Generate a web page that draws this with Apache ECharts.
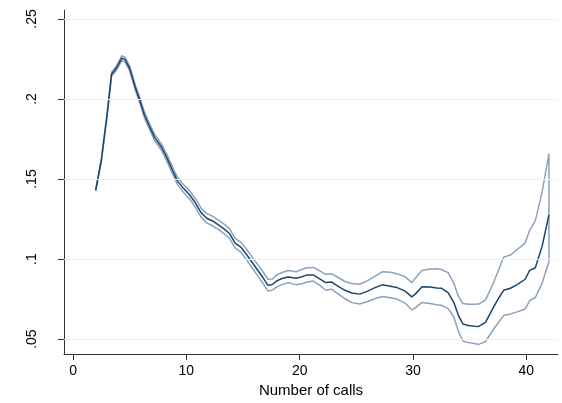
<!DOCTYPE html>
<html>
<head>
<meta charset="utf-8">
<script src="https://cdn.jsdelivr.net/npm/echarts@6/dist/echarts.min.js"></script>
<style>
html,body{margin:0;padding:0;background:#fff;}
#chart{width:562px;height:403px;}
</style>
</head>
<body>
<div id="chart"></div>
<script>
// Number of calls (x positions)
var calls = [2, 2.5, 3, 3.4, 3.8, 4.3, 4.6, 5, 5.5, 5.9, 6.3, 6.8, 7.2, 7.8, 8.3, 8.8, 9.2, 9.7, 10.3, 10.8, 11.3, 11.8, 12.3, 12.8, 13.3, 13.8, 14.3, 14.8, 15.3, 15.8, 16.3, 16.8, 17.2, 17.6, 18, 18.5, 19, 19.7, 20.2, 20.6, 21.2, 21.7, 22.3, 22.8, 23.4, 24, 24.6, 25.3, 26, 26.6, 27.3, 28, 28.6, 29.3, 29.9, 30.2, 30.8, 31.5, 32.1, 32.5, 33.1, 33.6, 34, 34.4, 34.9, 35.4, 35.8, 36.4, 37.1, 37.6, 38, 38.6, 39.2, 39.9, 40.3, 40.8, 41.4, 42];
// Estimate
var estimate = [0.143, 0.162, 0.190, 0.2155, 0.219, 0.2255, 0.2245, 0.219, 0.207, 0.199, 0.190, 0.182, 0.176, 0.170, 0.163, 0.155, 0.149, 0.1445, 0.140, 0.135, 0.129, 0.1255, 0.1238, 0.1215, 0.119, 0.116, 0.110, 0.1075, 0.103, 0.098, 0.093, 0.088, 0.0836, 0.0841, 0.0865, 0.088, 0.0888, 0.088, 0.089, 0.090, 0.0901, 0.088, 0.0853, 0.0857, 0.083, 0.0805, 0.0788, 0.0781, 0.080, 0.082, 0.0839, 0.083, 0.0822, 0.080, 0.0764, 0.0781, 0.0827, 0.0825, 0.082, 0.0818, 0.079, 0.073, 0.065, 0.0595, 0.0585, 0.058, 0.0579, 0.0605, 0.0698, 0.076, 0.0805, 0.0818, 0.084, 0.0874, 0.0929, 0.0946, 0.108, 0.1276];
// Upper confidence bound
var upper = [0.1435, 0.1627, 0.191, 0.2167, 0.2203, 0.227, 0.226, 0.2205, 0.2086, 0.2008, 0.1918, 0.1838, 0.1779, 0.172, 0.1651, 0.1571, 0.1512, 0.1469, 0.1426, 0.1377, 0.1318, 0.1284, 0.1268, 0.1245, 0.122, 0.119, 0.113, 0.1106, 0.1063, 0.1014, 0.0965, 0.0916, 0.0874, 0.0876, 0.0903, 0.0918, 0.0929, 0.0921, 0.0935, 0.0946, 0.0948, 0.093, 0.0905, 0.0909, 0.0885, 0.086, 0.0848, 0.0843, 0.0865, 0.089, 0.0921, 0.0918, 0.0909, 0.089, 0.0853, 0.088, 0.0929, 0.0938, 0.094, 0.0935, 0.0915, 0.085, 0.077, 0.0723, 0.0718, 0.0718, 0.0719, 0.0745, 0.085, 0.094, 0.1012, 0.1025, 0.106, 0.110, 0.118, 0.124, 0.142, 0.1659];
// Lower confidence bound
var lower = [0.1425, 0.1613, 0.189, 0.2143, 0.2177, 0.224, 0.223, 0.2175, 0.2054, 0.1972, 0.1882, 0.1802, 0.1741, 0.168, 0.1609, 0.1529, 0.1468, 0.1421, 0.1374, 0.1323, 0.1262, 0.1226, 0.1208, 0.1185, 0.116, 0.113, 0.107, 0.1044, 0.0997, 0.0946, 0.0895, 0.0844, 0.080, 0.0806, 0.0828, 0.0842, 0.0853, 0.0839, 0.0846, 0.0855, 0.0863, 0.084, 0.0805, 0.0812, 0.0782, 0.0752, 0.0728, 0.0719, 0.0735, 0.0752, 0.0766, 0.0758, 0.075, 0.0725, 0.0682, 0.0695, 0.0729, 0.0722, 0.0715, 0.0712, 0.069, 0.064, 0.055, 0.0488, 0.0478, 0.0472, 0.0467, 0.0485, 0.056, 0.061, 0.0647, 0.0657, 0.067, 0.0688, 0.074, 0.076, 0.085, 0.0983];
// Ticks
var yTickValues = [0.05, 0.1, 0.15, 0.2, 0.25];
var yTickLabels = ['.05', '.1', '.15', '.2', '.25'];
var xTickValues = [0, 10, 20, 30, 40];
var xTickLabels = ['0', '10', '20', '30', '40'];
var xTitle = 'Number of calls';

var mainData = calls.map(function (c, i) { return [c, estimate[i]]; });
var ciData = calls.map(function (c, i) { return [c, upper[i]]; });
for (var i = calls.length - 1; i >= 0; i--) ciData.push([calls[i], lower[i]]);

var chart = echarts.init(document.getElementById('chart'), null, {renderer: 'canvas'});
var font = 'Liberation Sans, Arial, sans-serif';
chart.setOption({
  animation: false,
  backgroundColor: '#ffffff',
  grid: {left: 64, right: 4, top: 10, bottom: 46, containLabel: false},
  xAxis: {
    type: 'value', min: -0.8, max: 42.8,
    name: xTitle, nameLocation: 'middle', nameGap: 29,
    nameTextStyle: {fontFamily: font, fontSize: 15, color: '#000'},
    axisLine: {show: true, onZero: false, lineStyle: {color: '#333', width: 1}},
    axisTick: {show: true, length: 6, customValues: xTickValues, lineStyle: {color: '#333'}},
    axisLabel: {customValues: xTickValues, margin: 10, fontFamily: font, fontSize: 14, color: '#000',
      formatter: function (v) { return xTickLabels[xTickValues.indexOf(v)]; }},
    splitLine: {show: false}
  },
  yAxis: {
    type: 'value', min: 0.0407, max: 0.2556,
    axisLine: {show: true, onZero: false, lineStyle: {color: '#333', width: 1}},
    axisTick: {show: true, length: 6, customValues: yTickValues, lineStyle: {color: '#333'}},
    axisLabel: {customValues: yTickValues, rotate: 90, margin: 25, fontFamily: font, fontSize: 14, color: '#000',
      formatter: function (v) { var k = yTickValues.findIndex(function (t) { return Math.abs(t - v) < 1e-9; }); return yTickLabels[k]; }},
    splitLine: {show: false}
  },
  series: [
    {
      type: 'line', data: [], silent: true,
      markLine: {
        silent: true, symbol: ['none', 'none'], label: {show: false},
        lineStyle: {color: '#eaf2f3', width: 1, type: 'solid'},
        data: yTickValues.map(function (v) { return {yAxis: v}; })
      }
    },
    {
      type: 'line', data: ciData, showSymbol: false, symbol: 'none',
      lineStyle: {color: '#8ea2bb', width: 1.5}, z: 2
    },
    {
      type: 'line', data: mainData, showSymbol: false, symbol: 'none',
      lineStyle: {color: '#1a476f', width: 1.5}, z: 3
    }
  ]
});
</script>
</body>
</html>
